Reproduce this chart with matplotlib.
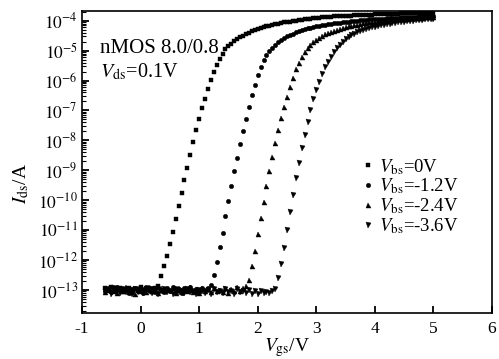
import numpy as np
import matplotlib
matplotlib.use('Agg')
import matplotlib.pyplot as plt
from matplotlib.ticker import FixedLocator, LogLocator, NullFormatter

plt.rcParams['font.family'] = ['Liberation Serif', 'DejaVu Serif']
plt.rcParams['mathtext.fontset'] = 'stix'

# gate voltage sweep (V)
vgs = np.round(-0.6 + 0.05 * np.arange(113), 2)

# log10(Ids) for each body bias
vbs0_floor = [-12.95, -13.04, -12.90, -13.08, -12.97, -12.93, -13.06, -13.01, -12.94, -13.10,
              -12.96, -13.03, -12.89, -13.05, -12.99, -12.92, -13.07, -12.95, -12.86]
vbs0_rise = [-12.54, -12.19, -11.86, -11.47, -11.05, -10.63, -10.20, -9.77, -9.33, -8.93,
             -8.48, -8.06, -7.66, -7.29, -6.93, -6.63, -6.29, -5.98, -5.70, -5.48,
             -5.29, -5.10, -4.96, -4.86, -4.77, -4.69, -4.62, -4.56, -4.50, -4.45,
             -4.40, -4.36, -4.32, -4.28, -4.25, -4.22, -4.19, -4.17, -4.14, -4.12,
             -4.10, -4.08, -4.06, -4.04, -4.03, -4.01, -4.00, -3.98, -3.97, -3.96,
             -3.94, -3.93, -3.92, -3.91, -3.90, -3.89, -3.88, -3.88, -3.87, -3.86,
             -3.86, -3.85, -3.84, -3.84, -3.83, -3.83, -3.82, -3.82, -3.81, -3.81,
             -3.80, -3.80, -3.80, -3.79, -3.79, -3.79, -3.78, -3.78, -3.78, -3.77,
             -3.77, -3.77, -3.76, -3.76, -3.76, -3.76, -3.75, -3.75, -3.75, -3.75,
             -3.74, -3.74, -3.74, -3.74]

vbs1_floor = [-13.02, -12.93, -13.08, -12.97, -12.91, -13.05, -13.00, -12.94, -13.11, -12.98,
              -12.92, -13.04, -12.96, -13.09, -12.90, -13.01, -12.95, -13.06, -12.93, -12.99,
              -13.07, -12.94, -13.02, -12.89, -13.05, -12.97, -13.10, -12.95, -13.00, -12.91,
              -13.04, -12.96, -13.08, -12.93, -13.01, -12.92, -12.84]
vbs1_rise = [-12.51, -12.06, -11.57, -11.09, -10.54, -10.03, -9.52, -9.03, -8.58, -8.11,
             -7.70, -7.28, -6.89, -6.50, -6.14, -5.82, -5.55, -5.33, -5.15, -5.01,
             -4.90, -4.80, -4.71, -4.64, -4.58, -4.52, -4.47, -4.43, -4.39, -4.35,
             -4.32, -4.29, -4.26, -4.23, -4.21, -4.19, -4.17, -4.15, -4.14, -4.12,
             -4.11, -4.09, -4.08, -4.07, -4.06, -4.04, -4.03, -4.02, -4.01, -4.00,
             -3.99, -3.98, -3.97, -3.96, -3.96, -3.95, -3.94, -3.93, -3.93, -3.92,
             -3.91, -3.91, -3.90, -3.90, -3.89, -3.89, -3.88, -3.88, -3.87, -3.87,
             -3.86, -3.86, -3.86, -3.85, -3.85, -3.85]

vbs2_floor = [-13.06, -12.97, -13.01, -12.92, -13.09, -12.95, -13.03, -12.90, -13.07, -12.98,
              -13.12, -12.94, -13.02, -12.96, -13.08, -12.91, -13.04, -12.99, -13.10, -12.93,
              -13.05, -12.97, -13.01, -12.92, -13.09, -12.95, -13.06, -12.98, -13.03, -12.90,
              -13.07, -12.96, -13.11, -12.94, -13.02, -12.97, -13.08, -12.92, -13.04, -12.99,
              -13.06, -12.93, -13.10, -12.96, -13.03, -12.91, -13.05, -12.95, -12.88]
vbs2_rise = [-12.66, -12.20, -11.70, -11.14, -10.60, -10.05, -9.53, -9.03, -8.56, -8.09,
             -7.66, -7.26, -6.87, -6.54, -6.21, -5.91, -5.62, -5.40, -5.21, -5.05,
             -4.92, -4.81, -4.72, -4.64, -4.57, -4.51, -4.46, -4.41, -4.37, -4.33,
             -4.30, -4.27, -4.24, -4.21, -4.19, -4.17, -4.15, -4.13, -4.11, -4.09,
             -4.08, -4.06, -4.05, -4.03, -4.02, -4.01, -4.00, -3.99, -3.98, -3.97,
             -3.96, -3.95, -3.94, -3.94, -3.93, -3.92, -3.92, -3.91, -3.90, -3.90,
             -3.89, -3.89, -3.88, -3.88]

vbs3_floor = [-13.08, -13.00, -13.13, -12.95, -13.05, -13.10, -12.98, -13.07, -13.02, -13.14,
              -12.97, -13.06, -13.01, -13.11, -12.96, -13.04, -13.09, -12.99, -13.12, -13.03,
              -12.97, -13.08, -13.05, -13.13, -12.98, -13.06, -13.02, -13.10, -12.96, -13.07,
              -13.04, -13.12, -12.99, -13.05, -13.09, -13.01, -13.14, -12.97, -13.06, -13.03,
              -13.11, -12.98, -13.08, -13.02, -13.13, -12.96, -13.07, -13.04, -13.10, -12.99,
              -13.12, -13.05, -13.15, -13.02, -13.09, -13.06, -13.11, -13.03, -12.98]
vbs3_rise = [-12.61, -12.14, -11.59, -10.99, -10.38, -9.83, -9.25, -8.76, -8.27, -7.81,
             -7.39, -6.98, -6.62, -6.32, -6.06, -5.78, -5.56, -5.37, -5.20, -5.06,
             -4.92, -4.81, -4.72, -4.62, -4.54, -4.48, -4.43, -4.39, -4.35, -4.31,
             -4.28, -4.25, -4.22, -4.20, -4.18, -4.16, -4.14, -4.12, -4.10, -4.09,
             -4.07, -4.06, -4.05, -4.03, -4.02, -4.01, -4.00, -3.99, -3.98, -3.97,
             -3.96, -3.95, -3.95, -3.94]

series = [
    (vbs0_floor + vbs0_rise, 's', 3.0, r'$V_{\rm bs}$=0V'),
    (vbs1_floor + vbs1_rise, 'o', 3.2, r'$V_{\rm bs}$=-1.2V'),
    (vbs2_floor + vbs2_rise, '^', 3.6, r'$V_{\rm bs}$=-2.4V'),
    (vbs3_floor + vbs3_rise, 'v', 3.6, r'$V_{\rm bs}$=-3.6V'),
]

fig = plt.figure(figsize=(4.99, 3.59), dpi=100)
ax = fig.add_axes([0.1643, 0.1281, 0.8217, 0.8413])

for logi, marker, ms, label in series:
    ax.semilogy(vgs, 10.0 ** np.array(logi), marker, ms=ms, color='k',
                linestyle='none', markeredgewidth=0.3, label=label)

ax.set_xlim(-1, 6)
ax.set_ylim(10 ** -13.77, 10 ** -3.676)
ax.set_xticks(range(-1, 7))
ax.set_xticklabels([str(v) for v in range(-1, 7)])

exps = list(range(-13, -3))
ax.yaxis.set_major_locator(FixedLocator([10.0 ** e for e in exps]))
ax.set_yticklabels([r'$10^{%d}$' % e for e in exps])
ax.yaxis.set_minor_locator(LogLocator(base=10, subs=np.arange(2, 10), numticks=20))
ax.yaxis.set_minor_formatter(NullFormatter())

ax.tick_params(axis='both', which='major', direction='in', length=5, width=1.3,
               labelsize=12.5, top=False, right=False)
ax.tick_params(axis='y', which='minor', direction='in', length=3, width=0.8, right=False)
ax.tick_params(axis='x', pad=6)
ax.tick_params(axis='y', pad=3)
for s in ax.spines.values():
    s.set_linewidth(1.2)

ax.set_xlabel(r'$V_{\rm gs}$/V', fontsize=14, labelpad=-1)
ax.set_ylabel(r'$I_{\rm ds}$/A', fontsize=14)
ax.yaxis.set_label_coords(-0.125, 0.43)

ax.text(0.044, 0.86, 'nMOS 8.0/0.8', transform=ax.transAxes, fontsize=15)
ax.text(0.044, 0.78, r'$V_{\rm ds}$=0.1V', transform=ax.transAxes, fontsize=14.5)

ax.legend(loc='upper left', bbox_to_anchor=(0.655, 0.56), frameon=False, fontsize=13.5,
          handlelength=0.5, handletextpad=0.3, labelspacing=0.0, borderpad=0.2,
          markerscale=1.0)

fig.savefig('out.png', dpi=100)
